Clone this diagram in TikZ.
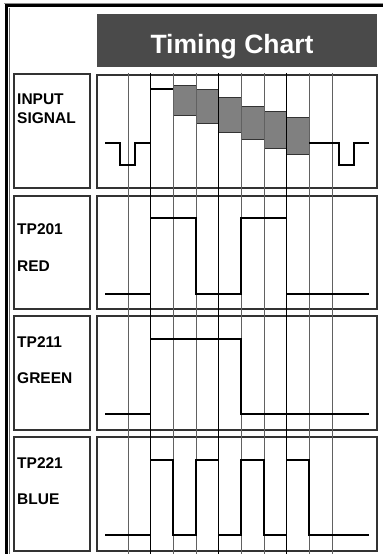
\documentclass[tikz,border=0pt]{standalone}
\usepackage{fontspec}
\setmainfont{Liberation Sans}
\begin{document}
\begin{tikzpicture}[x=1pt,y=-1pt,
  box/.style={draw=black!80,line width=1.1pt},
  lbl/.style={anchor=base west,inner sep=0pt,font=\fontsize{15.5}{17}\selectfont\bfseries},
  sig/.style={draw=black,line width=1.5pt,line join=miter},
  gline/.style={draw=black!62,line width=1pt},
  bline/.style={draw=black,line width=1pt},
  shade/.style={fill=black!50,draw=black!80,line width=1pt}]
\useasboundingbox (0,0) rectangle (383,554);
% outer frame
\draw[black!45,line width=0.8pt] (4,3) -- (383,3);
\draw[black,line width=2.2pt] (6.5,554) -- (6.5,5.5) -- (383,5.5);
\draw[black!60,line width=0.8pt] (9,554) -- (9,8);
% title
\node[fill=black!71,minimum width=280pt,minimum height=53pt,inner sep=0pt,anchor=north west] (title) at (97,14) {};
\node[anchor=base,inner sep=0pt,text=white,font=\fontsize{26.5}{29}\selectfont\bfseries] (titletext) at (232,53) {Timing Chart};
% label boxes and chart boxes
\draw[box] (14,74) rectangle (90,188);
\draw[box] (14,196) rectangle (90,309);
\draw[box] (14,316) rectangle (90,430);
\draw[box] (14,437) rectangle (90,551);
\draw[box] (97,75) rectangle (377,188);
\draw[box] (97,196) rectangle (377,309);
\draw[box] (97,316) rectangle (377,430);
\draw[box] (97,437) rectangle (377,551);
% gray shaded boxes in input signal
\draw[shade] (173,85) rectangle (196,115);
\draw[shade] (196,89) rectangle (218.5,123);
\draw[shade] (218.5,97) rectangle (241,132);
\draw[shade] (241,106) rectangle (264,139);
\draw[shade] (264,111) rectangle (286.5,148);
\draw[shade] (286.5,117) rectangle (309,154);
% vertical grid lines
\foreach \x in {128,173,196,241,264,309,332} \draw[gline] (\x,73) -- (\x,554);
\foreach \x in {150.5,218.5,286.5} \draw[bline] (\x,73) -- (\x,554);
% signals
\draw[sig] (105,143) -- (120,143) -- (120,165) -- (135,165) -- (135,143) -- (150.5,143) -- (150.5,89) -- (173,89);
\draw[sig] (309,143) -- (339,143) -- (339,165) -- (354,165) -- (354,143) -- (369,143);
\draw[sig] (105,294) -- (150.5,294) -- (150.5,218) -- (196,218) -- (196,294) -- (241,294) -- (241,218) -- (286.5,218) -- (286.5,294) -- (369,294);
\draw[sig] (105,414) -- (150.5,414) -- (150.5,339) -- (241,339) -- (241,414) -- (369,414);
\draw[sig] (105,535) -- (150.5,535) -- (150.5,460) -- (173,460) -- (173,535) -- (196,535) -- (196,460) -- (218.5,460) -- (218.5,535) -- (241,535) -- (241,460) -- (264,460) -- (264,535) -- (286.5,535) -- (286.5,460) -- (309,460) -- (309,535) -- (369,535);
% labels
\node[lbl] (l1a) at (17,104) {INPUT};
\node[lbl] (l1b) at (17,123) {SIGNAL};
\node[lbl] (l2a) at (17,234) {TP201};
\node[lbl] (l2b) at (17,271) {RED};
\node[lbl] (l3a) at (17,347) {TP211};
\node[lbl] (l3b) at (17,383) {GREEN};
\node[lbl] (l4a) at (17,468) {TP221};
\node[lbl] (l4b) at (17,504) {BLUE};
\end{tikzpicture}
\end{document}
